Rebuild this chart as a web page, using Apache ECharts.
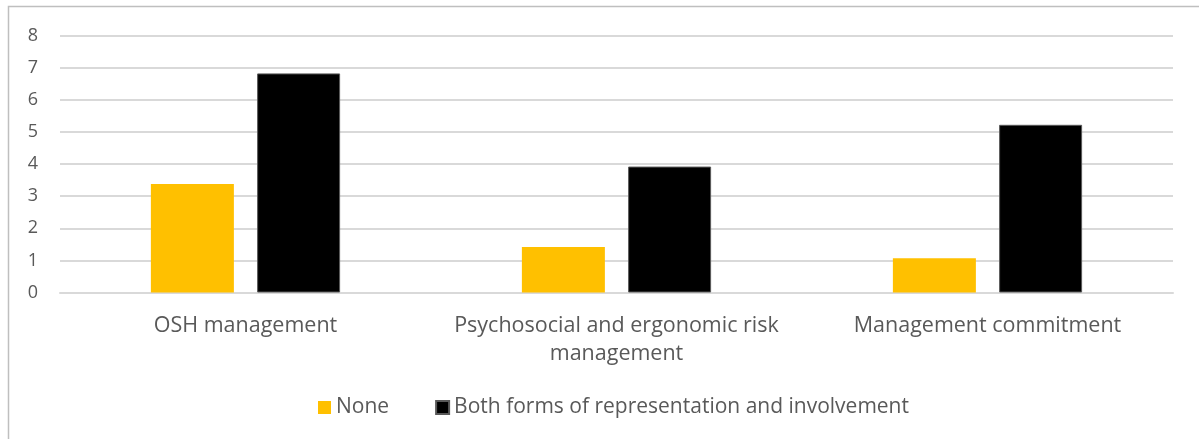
<!DOCTYPE html>
<html>
<head>
<meta charset="utf-8">
<script src="https://cdn.jsdelivr.net/npm/echarts@6/dist/echarts.min.js"></script>
<style>
  html, body { margin: 0; padding: 0; background: #fff; }
  #chart { width: 1199px; height: 439px; }
</style>
</head>
<body>
<div id="chart"></div>
<script>
// categories and values
const categories = ['OSH management', 'Psychosocial and ergonomic risk\nmanagement', 'Management commitment'];
const noneValues = [3.38, 1.42, 1.07];
const bothValues = [6.82, 3.92, 5.22];
const seriesNames = ['None', 'Both forms of representation and involvement'];

const font = '"Open Sans", sans-serif';
const chart = echarts.init(document.getElementById('chart'));

const option = {
  animation: false,
  textStyle: { fontFamily: font },
  graphic: [{
    type: 'rect',
    shape: { x: 8.5, y: 6.5, width: 1300, height: 600 },
    style: { fill: 'none', stroke: '#bfbfbf', lineWidth: 1.5 },
    silent: true
  }],
  legend: {
    data: seriesNames,
    bottom: 16,
    left: 313,
    itemWidth: 13,
    itemHeight: 13,
    itemGap: 46,
    itemTextGap: 6,
    icon: 'rect',
    textStyle: { color: '#595959', fontSize: 21, fontFamily: font }
  },
  grid: { left: 60, right: 26, top: 35.5, height: 257 },
  xAxis: {
    type: 'category',
    data: categories,
    axisLine: { lineStyle: { color: '#d9d9d9', width: 2 } },
    axisTick: { show: false },
    axisLabel: { color: '#595959', fontSize: 21.5, lineHeight: 28, margin: 19, fontFamily: font, interval: 0 }
  },
  yAxis: {
    type: 'value',
    min: 0,
    max: 8,
    interval: 1,
    axisLine: { show: false },
    axisTick: { show: false },
    splitLine: { lineStyle: { color: '#d9d9d9', width: 2 } },
    axisLabel: { color: '#595959', fontSize: 18, margin: 22, fontFamily: font }
  },
  series: [
    {
      name: seriesNames[0],
      type: 'bar',
      data: noneValues,
      barWidth: 83,
      barGap: '28%',
      itemStyle: { color: '#ffc000' }
    },
    {
      name: seriesNames[1],
      type: 'bar',
      data: bothValues,
      barWidth: 83,
      itemStyle: { color: '#000000', borderColor: '#595959', borderWidth: 1 }
    }
  ]
};

chart.setOption(option);
</script>
</body>
</html>
